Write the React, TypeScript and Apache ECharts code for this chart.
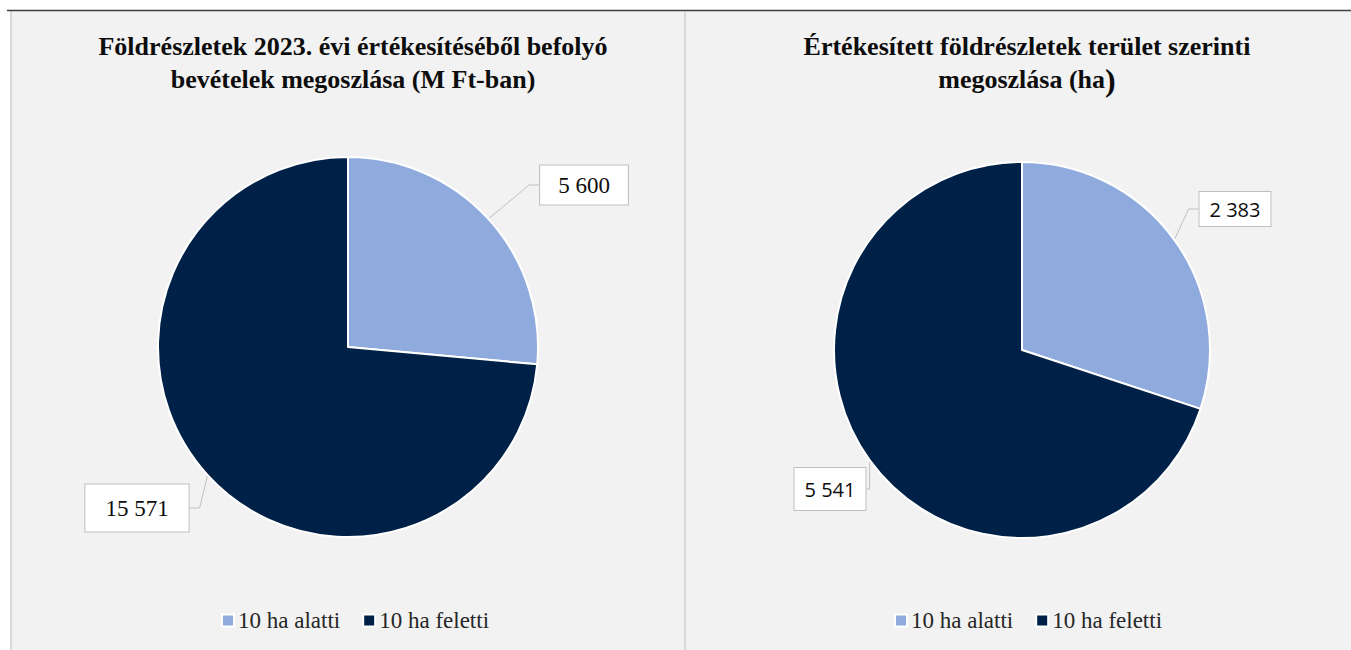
import React, { useEffect, useRef } from "react";
import * as echarts from "echarts";

const categories = ["10 ha alatti", "10 ha feletti"];
const revenueValues = [5600, 15571];
const areaValues = [2383, 5541];
const sliceColors = ["#8faadc", "#002147"];
const leftTitle = "Földrészletek 2023. évi értékesítéséből befolyó\nbevételek megoszlása (M Ft-ban)";
const rightTitle = "Értékesített földrészletek terület szerinti\nmegoszlása (ha{big|)}";

const leftLabelPos = [[584, 185], [137, 508]];
const rightLabelPos = [[1235, 209], [830, 489]];
const leftPadding = [[8, 18], [12, 20]];
const rightPadding = [[7, 10], [11, 10]];

const fmt = (v: number) => String(v).replace(/\B(?=(\d{3})+(?!\d))/g, " ");

const SERIF = "Liberation Serif";
const SANS = "Open Sans";

function makePie(values: number[], center: number[], radius: number, pos: number[][], pads: number[][], font: string, size: number) {
  const labelStyle = {
    show: true,
    position: "outside",
    formatter: (p: any) => fmt(p.value),
    backgroundColor: "#ffffff",
    borderColor: "#bfbfbf",
    borderWidth: 1,
    color: "#0d0d0d",
    fontFamily: font,
    fontSize: size,
  };
  return {
    type: "pie",
    center,
    radius,
    startAngle: 90,
    clockwise: true,
    avoidLabelOverlap: false,
    itemStyle: { borderColor: "#ffffff", borderWidth: 2 },
    label: labelStyle,
    labelLine: { show: true, length: 10, length2: 10, lineStyle: { color: "#bfbfbf", width: 1 } },
    labelLayout: (params: any) => ({
      x: pos[params.dataIndex][0],
      y: pos[params.dataIndex][1],
      align: "center",
      verticalAlign: "middle",
    }),
    emphasis: { disabled: true },
    data: categories.map((name, i) => ({
      name,
      value: values[i],
      itemStyle: { color: sliceColors[i] },
      label: { ...labelStyle, padding: pads[i] },
    })),
  };
}

export default function App() {
  const ref = useRef<HTMLDivElement>(null);
  useEffect(() => {
    if (!ref.current) return;
    const chart = echarts.init(ref.current, null, { renderer: "svg" });
    const legendCommon = {
      orient: "horizontal",
      top: 604,
      icon: "rect",
      itemWidth: 12,
      itemHeight: 12,
      itemGap: 22,
      selectedMode: false,
      textStyle: { fontFamily: SERIF, fontSize: 23, color: "#262626", padding: [0, 0, 0, -1] },
      data: categories,
    };
    chart.setOption({
      animation: false,
      backgroundColor: "#ffffff",
      graphic: [
        { type: "rect", shape: { x: 10, y: 11, width: 674, height: 645 }, style: { fill: "#f2f2f2" }, z: -10 },
        { type: "rect", shape: { x: 686, y: 11, width: 670, height: 645 }, style: { fill: "#f2f2f2" }, z: -10 },
        { type: "line", shape: { x1: 11, y1: 11, x2: 11, y2: 650 }, style: { stroke: "#d9d9d9", lineWidth: 2 }, z: -9 },
        { type: "line", shape: { x1: 685, y1: 11, x2: 685, y2: 650 }, style: { stroke: "#d9d9d9", lineWidth: 2 }, z: -9 },
        { type: "line", shape: { x1: 7, y1: 10.5, x2: 1351, y2: 10.5 }, style: { stroke: "#404040", lineWidth: 1.5 }, z: -8 },
      ],
      title: [
        {
          text: leftTitle,
          left: 348,
          top: 25,
          textAlign: "center",
          textStyle: { fontFamily: SERIF, fontWeight: "bold", fontSize: 26, color: "#0d0d0d", lineHeight: 33 },
        },
        {
          text: rightTitle,
          left: 1022,
          top: 25,
          textAlign: "center",
          textStyle: {
            fontFamily: SERIF,
            fontWeight: "bold",
            fontSize: 26,
            color: "#0d0d0d",
            lineHeight: 33,
            rich: { big: { fontFamily: SERIF, fontWeight: "bold", fontSize: 32, color: "#0d0d0d", lineHeight: 33 } },
          },
        },
      ],
      legend: [
        { ...legendCommon, left: 216 },
        { ...legendCommon, left: 889 },
      ],
      series: [
        makePie(revenueValues, [348, 347], 190, leftLabelPos, leftPadding, SERIF, 23),
        makePie(areaValues, [1022, 350], 188, rightLabelPos, rightPadding, SANS, 20),
      ],
    });
    return () => chart.dispose();
  }, []);
  return <div ref={ref} style={{ position: "absolute", left: 0, top: 0, width: 1351, height: 650 }} />;
}
